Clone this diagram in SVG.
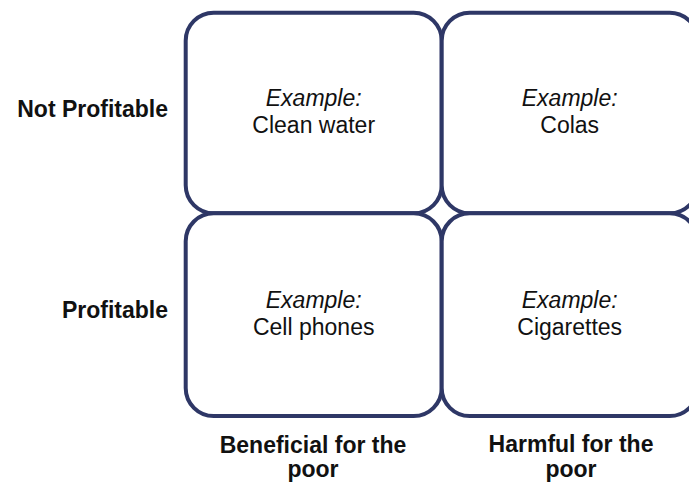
<svg xmlns="http://www.w3.org/2000/svg" width="689" height="485" viewBox="0 0 689 485">
  <style>
    .box { fill: #ffffff; stroke: #2E3766; stroke-width: 4; }
    .t { font-family: "Liberation Sans", Arial, sans-serif; font-size: 23px; fill: #111111; text-anchor: middle; }
    .i { font-style: italic; }
    .b { font-weight: bold; }
    .end { text-anchor: end; }
  </style>
  <rect width="689" height="485" fill="#ffffff"/>
  <g id="node-clean-water">
    <rect class="box" x="185.7" y="12.7" width="256" height="200.6" rx="28" ry="28"/>
    <text class="t i" x="313.7" y="106">Example:</text>
    <text class="t" x="313.7" y="133">Clean water</text>
  </g>
  <g id="node-colas">
    <rect class="box" x="441.7" y="12.7" width="256" height="200.6" rx="28" ry="28"/>
    <text class="t i" x="569.7" y="106">Example:</text>
    <text class="t" x="569.7" y="133">Colas</text>
  </g>
  <g id="node-cell-phones">
    <rect class="box" x="185.7" y="213.3" width="256" height="202.7" rx="28" ry="28"/>
    <text class="t i" x="313.7" y="308">Example:</text>
    <text class="t" x="313.7" y="335">Cell phones</text>
  </g>
  <g id="node-cigarettes">
    <rect class="box" x="441.7" y="213.3" width="256" height="202.7" rx="28" ry="28"/>
    <text class="t i" x="569.7" y="308">Example:</text>
    <text class="t" x="569.7" y="335">Cigarettes</text>
  </g>
  <g id="connectors"></g>
  <g id="row-labels">
    <text class="t b end" x="168" y="116.5">Not Profitable</text>
    <text class="t b end" x="168" y="318.3">Profitable</text>
  </g>
  <g id="column-labels">
    <text class="t b" x="313" y="452.5">Beneficial for the</text>
    <text class="t b" x="313" y="477">poor</text>
    <text class="t b" x="571" y="451.7">Harmful for the</text>
    <text class="t b" x="571" y="476.5">poor</text>
  </g>
</svg>
